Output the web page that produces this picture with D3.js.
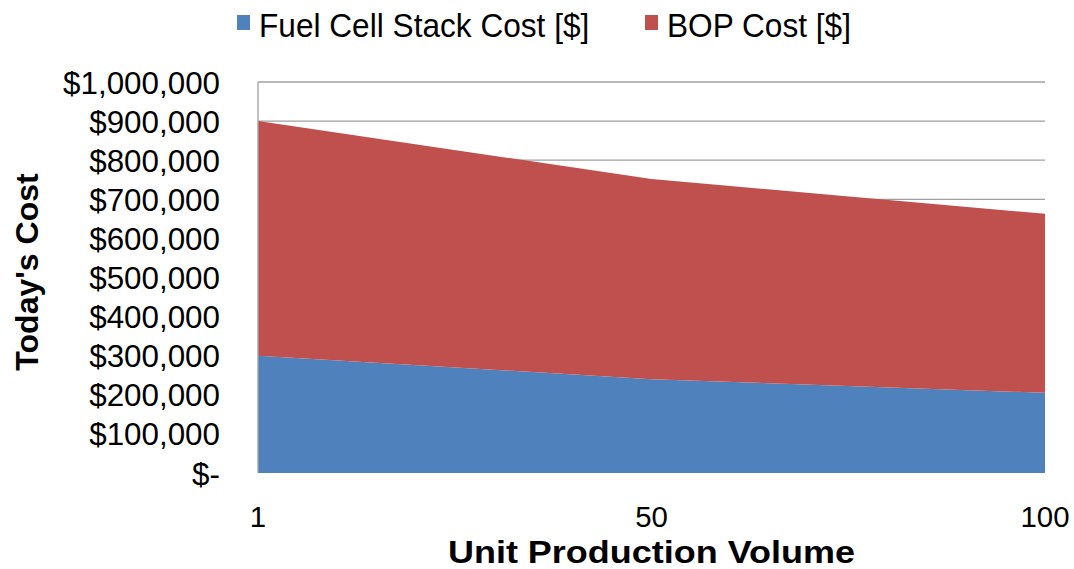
<!DOCTYPE html>
<html>
<head>
<meta charset="utf-8">
<script src="https://cdn.jsdelivr.net/npm/d3@7"></script>
<style>
  html, body { margin: 0; padding: 0; background: #fff; }
  svg text { font-family: "Liberation Sans", Arial, sans-serif; fill: #000; }
</style>
</head>
<body>
<svg id="chart" width="1074" height="569"></svg>
<script>
// Production volumes (category axis) and cost components per unit
const volumes = ["1", "50", "100"];
const stackCost = [300000, 240000, 205000];
const bopCost = [600000, 512000, 458000];
const seriesNames = ["Fuel Cell Stack Cost [$]", "BOP Cost [$]"];
const seriesColors = ["#4F81BD", "#C0504D"];
const yTicks = [0, 100000, 200000, 300000, 400000, 500000, 600000, 700000, 800000, 900000, 1000000];

const svg = d3.select("#chart");
const plot = { left: 258, right: 1045, top: 82, bottom: 473 };

const x = d3.scalePoint().domain(volumes).range([plot.left, plot.right]);
const y = d3.scaleLinear().domain([0, 1000000]).range([plot.bottom, plot.top]);

const rows = volumes.map((v, i) => ({ vol: v, stack: stackCost[i], bop: bopCost[i] }));
const stacked = d3.stack().keys(["stack", "bop"])(rows);

// Text placed at (px, py), with an optional horizontal scale
function label(parent, px, py, str, size, anchor, sx, extra) {
  const t = parent.append("text")
    .attr("transform", `translate(${px},${py}) scale(${sx},1)`)
    .attr("text-anchor", anchor)
    .attr("font-size", size)
    .text(str);
  if (extra) extra(t);
  return t;
}

// Horizontal gridlines
svg.append("g")
  .selectAll("line")
  .data(yTicks.filter(d => d > 0))
  .join("line")
  .attr("x1", plot.left).attr("x2", plot.right)
  .attr("y1", d => y(d)).attr("y2", d => y(d))
  .attr("stroke", "#a0a0a0").attr("stroke-width", 1.3);

// Stacked areas
const area = d3.area()
  .x(d => x(d.data.vol))
  .y0(d => y(d[0]))
  .y1(d => y(d[1]));

svg.append("g")
  .selectAll("path")
  .data(stacked)
  .join("path")
  .attr("d", area)
  .attr("fill", (d, i) => seriesColors[i]);

// Y axis line
svg.append("line")
  .attr("x1", plot.left).attr("x2", plot.left)
  .attr("y1", plot.top).attr("y2", plot.bottom)
  .attr("stroke", "#a0a0a0").attr("stroke-width", 1.3);

// Y axis labels
const fmt = d => d === 0 ? "$-" : "$" + d3.format(",")(d);
const gy = svg.append("g");
yTicks.forEach(v => label(gy, 220, y(v) + 11.5, fmt(v), 32, "end", 0.98));

// X axis labels
const gx = svg.append("g");
volumes.forEach(v => label(gx, x(v), 527, v, 30, "middle", 0.98));

// Axis titles
label(svg, (plot.left + plot.right) / 2, 563, "Unit Production Volume", 32, "middle", 1.125,
  t => t.attr("font-weight", "bold"));

svg.append("text")
  .attr("transform", `translate(38,${272}) rotate(-90)`)
  .attr("text-anchor", "middle")
  .attr("font-size", 32)
  .attr("font-weight", "bold")
  .text("Today's Cost");

// Legend
const legendItems = [
  { name: seriesNames[0], color: seriesColors[0], x: 237 },
  { name: seriesNames[1], color: seriesColors[1], x: 645 }
];
const lg = svg.append("g").selectAll("g").data(legendItems).join("g")
  .attr("transform", d => `translate(${d.x},0)`);
lg.append("rect")
  .attr("x", 0).attr("y", 15).attr("width", 13).attr("height", 15)
  .attr("fill", d => d.color);
lg.each(function (d) {
  label(d3.select(this), 22, 37, d.name, 34, "start", 0.93);
});
</script>
</body>
</html>
